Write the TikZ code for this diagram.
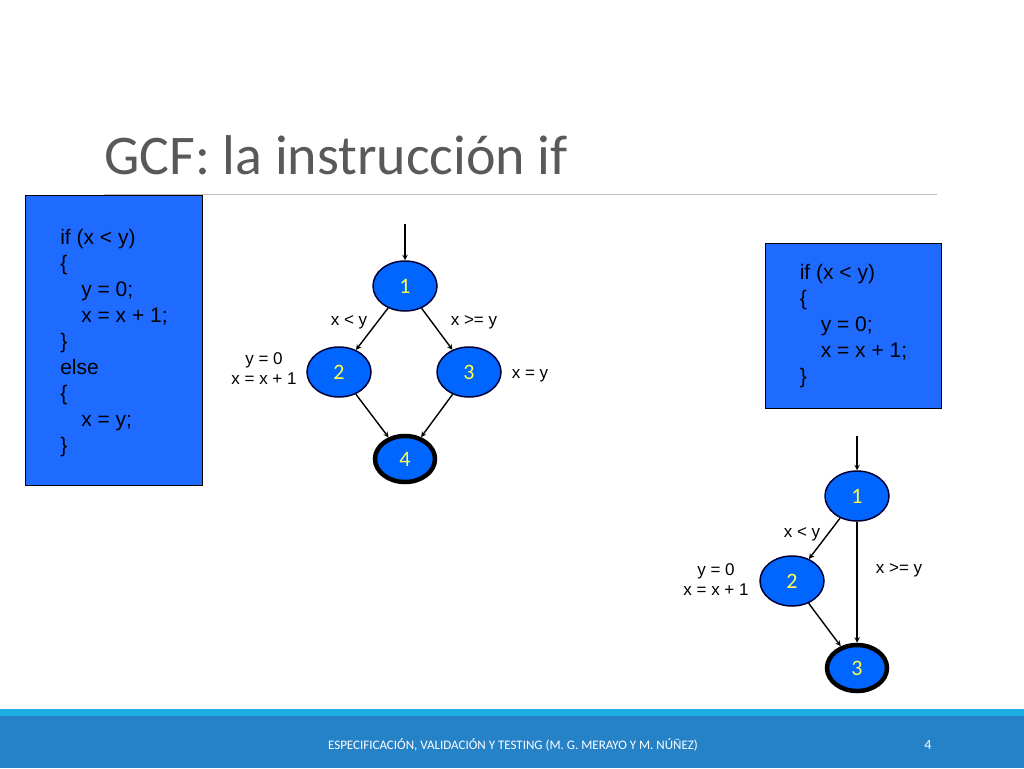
\documentclass[tikz,border=0pt]{standalone}
\usepackage{fontspec}
\setmainfont{Liberation Sans}
\newfontfamily\calibri{Carlito}
\usetikzlibrary{shapes.geometric,positioning}
\definecolor{nodeblue}{rgb}{0.0, 0.4, 1.0}
\definecolor{boxblue}{rgb}{0.12, 0.42, 1.0}
\definecolor{barblue}{rgb}{0.15, 0.51, 0.78}
\definecolor{striphigh}{rgb}{0.11, 0.68, 0.89}
\definecolor{titlegray}{rgb}{0.35, 0.35, 0.35}
\definecolor{numyellow}{rgb}{1.0, 1.0, 0.3}
\tikzset{
  gnode/.style={ellipse, fill=nodeblue, draw=black!80!blue, line width=1.5pt,
    minimum width=64pt, minimum height=50pt, inner sep=0pt,
    font=\calibri\fontsize{22}{22}\selectfont, text=numyellow},
  endnode/.style={gnode, draw=black, line width=4.5pt, minimum width=60pt, minimum height=46pt},
  code/.style={draw=black, fill=boxblue, line width=1pt, align=left, anchor=north west,
    font=\fontsize{21}{26}\selectfont, inner sep=10pt},
  lbl/.style={font=\fontsize{17}{20}\selectfont, align=right},
  arr/.style={->, line width=1.4pt, >=stealth}
}
\begin{document}
\begin{tikzpicture}[x=1pt,y=-1pt]
\useasboundingbox (0,0) rectangle (1024,768);

% title
\node[anchor=base west, text=titlegray, font=\calibri\fontsize{56}{56}\selectfont, inner sep=0pt]
  (title) at (104,174) {GCF: la instrucción if};
\draw[black!25, line width=0.8pt] (104,194) -- (937,194);

% code boxes
\node[code, minimum width=177pt, minimum height=290pt, text depth=0pt] (codeA) at (25,195)
  {if (x < y)\\\{\\\quad y = 0;\\\quad x = x + 1;\\\}\\else\\\{\\\quad x = y;\\\}};
\node[code, minimum width=176pt, minimum height=165pt] (codeB) at (765,243)
  {if (x < y)\\\{\\\quad y = 0;\\\quad x = x + 1;\\\}};

% if-else graph
\coordinate (startA) at (405,224);
\node[gnode] (a1) at (405,286) {1};
\node[gnode] (a2) at (339,372) {2};
\node[gnode] (a3) at (469,372) {3};
\node[endnode] (a4) at (405,459) {4};
\draw[arr] (startA) -- (a1);
\draw[arr] (a1) -- (a2);
\draw[arr] (a1) -- (a3);
\draw[arr] (a2) -- (a4);
\draw[arr] (a3) -- (a4);
\node[lbl] (la12) at (349,322) {x < y};
\node[lbl] (la13) at (474,322) {x >= y};
\node[lbl, align=center] (la2) at (264,369) {y = 0\\x = x + 1};
\node[lbl] (la3) at (530,376) {x = y};

% if graph
\coordinate (startB) at (857,436);
\node[gnode] (b1) at (857,496) {1};
\node[gnode] (b2) at (792,581) {2};
\node[endnode] (b3) at (857,668) {3};
\draw[arr] (startB) -- (b1);
\draw[arr] (b1) -- (b2);
\draw[arr] (b1) -- (b3);
\draw[arr] (b2) -- (b3);
\node[lbl] (lb12) at (802,534) {x < y};
\node[lbl] (lb13) at (899,570) {x >= y};
\node[lbl, align=center] (lb2) at (716,580) {y = 0\\x = x + 1};

% footer
\fill[striphigh] (0,709) rectangle (1024,716);
\fill[barblue] (0,716) rectangle (1024,768);
\node[text=white, font=\calibri\fontsize{13}{13}\selectfont] (foot) at (513,745)
  {ESPECIFICACIÓN, VALIDACIÓN Y TESTING (M. G. MERAYO Y M. NÚÑEZ)};
\node[text=white, font=\calibri\fontsize{14}{14}\selectfont] (page) at (928,745) {4};
\end{tikzpicture}
\end{document}
